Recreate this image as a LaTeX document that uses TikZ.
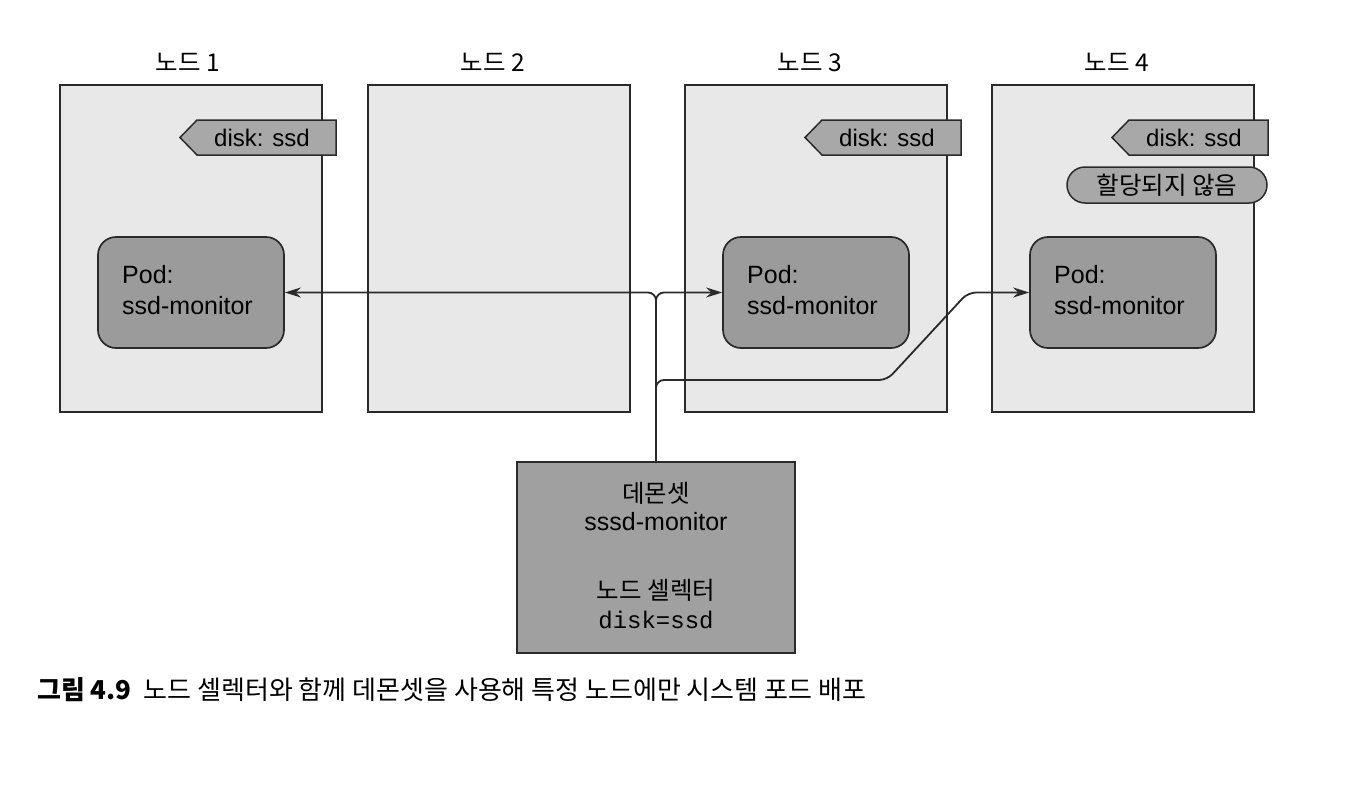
\documentclass[tikz,border=0pt]{standalone}
\usepackage{fontspec}
\setmainfont{Liberation Sans}
\newfontfamily\kr{Noto Sans CJK KR}
\newfontfamily\mono{Liberation Mono}
\usetikzlibrary{arrows.meta}
\definecolor{nodefill}{HTML}{E8E8E8}
\definecolor{podfill}{HTML}{9B9B9B}
\definecolor{tagfill}{HTML}{A8A8A8}
\definecolor{dsfill}{HTML}{A0A0A0}
\definecolor{edge}{HTML}{2A2A2A}
\tikzset{
  nodebox/.style={draw=edge, line width=1.7pt, fill=nodefill, minimum width=262pt, minimum height=327pt, inner sep=0pt},
  krfont/.style={font=\kr\fontsize{24.5}{28}\selectfont},
  nodelabel/.style={krfont, text=black},
  podbox/.style={draw=edge, line width=1.7pt, fill=podfill, rounded corners=18pt, minimum width=186pt, minimum height=111pt, inner sep=0pt},
  podtext/.style={font=\fontsize{25}{31}\selectfont, align=left, anchor=north west, inner sep=0pt},
  tagshape/.style={draw=edge, line width=1.5pt, fill=tagfill},
  tagtext/.style={font=\fontsize{24}{28}\selectfont, inner sep=0pt},
  pill/.style={draw=edge, line width=1.5pt, fill=tagfill, rounded corners=18pt, minimum width=200pt, minimum height=36pt, inner sep=0pt, krfont},
  dsbox/.style={draw=edge, line width=1.7pt, fill=dsfill, minimum width=278pt, minimum height=191pt, inner sep=0pt},
  conn/.style={draw=edge, line width=1.8pt, rounded corners=8pt, -{Stealth[length=16pt,width=10pt]}},
}
\begin{document}
\begin{tikzpicture}[x=1pt,y=-1pt]
\useasboundingbox (0,0) rectangle (1370,806);
% node boxes
\node[nodebox] (n1) at (191,248.5) {};
\node[nodebox] (n2) at (499,248.5) {};
\node[nodebox] (n3) at (816,248.5) {};
\node[nodebox] (n4) at (1123,248.5) {};
\node[nodelabel] (l1) at (188,62) {노드 1};
\node[nodelabel] (l2) at (493,62) {노드 2};
\node[nodelabel] (l3) at (810,62) {노드 3};
\node[nodelabel] (l4) at (1117,62) {노드 4};
% tags
\draw[tagshape] (180,137.5) -- (197,120) -- (336,120) -- (336,155) -- (197,155) -- cycle;
\node[tagtext] (t1) at (262,137.5) {disk: ssd};
\draw[tagshape] (805,137.5) -- (822,120) -- (961,120) -- (961,155) -- (822,155) -- cycle;
\node[tagtext] (t3) at (887,137.5) {disk: ssd};
\draw[tagshape] (1112,137.5) -- (1129,120) -- (1268,120) -- (1268,155) -- (1129,155) -- cycle;
\node[tagtext] (t4) at (1194,137.5) {disk: ssd};
\node[pill] (un) at (1167,185) {할당되지 않음};
% pods
\node[podbox] (p1) at (191,292.5) {};
\node[podbox] (p3) at (816,292.5) {};
\node[podbox] (p4) at (1123,292.5) {};
\node[podtext] (pt1) at (122,265) {Pod:\\ssd-monitor};
\node[podtext] (pt3) at (747,265) {Pod:\\ssd-monitor};
\node[podtext] (pt4) at (1054,265) {Pod:\\ssd-monitor};
% daemonset
\node[dsbox] (ds) at (656,557.5) {};
\node[krfont] (d1) at (656,493) {데몬셋};
\node[font=\fontsize{25}{28}\selectfont] (d2) at (656,522) {sssd-monitor};
\node[krfont] (d3) at (656,590) {노드 셀렉터};
\node[font=\mono\fontsize{24}{28}\selectfont] (d4) at (656,620) {disk=ssd};
% connectors
\draw[conn] (ds.north) |- (p1.east);
\draw[conn] (ds.north) |- (p3.west);
\coordinate (b1) at (887,380);
\coordinate (b2) at (968,292.5);
\draw[conn] (ds.north) |- (b1) -- (b2) -- (p4.west);
% caption
\node[anchor=west, inner sep=0pt, font=\kr\fontsize{26}{28}\selectfont] (cap) at (37,690) {\textbf{그림 4.9}\hspace{12pt}노드 셀렉터와 함께 데몬셋을 사용해 특정 노드에만 시스템 포드 배포};
\end{tikzpicture}
\end{document}
